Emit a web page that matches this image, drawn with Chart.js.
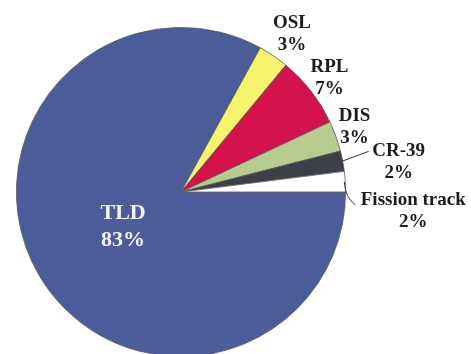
<!DOCTYPE html>
<html>
<head>
<meta charset="utf-8">
<script src="https://cdn.jsdelivr.net/npm/chart.js@4"></script>
<style>
  html, body { margin: 0; padding: 0; background: #fff; overflow: hidden; }
  #wrap { position: absolute; left: 0; top: 0; width: 471px; height: 370px; }
</style>
</head>
<body>
<div id="wrap"><canvas id="pie"></canvas></div>
<script>
/* dosimeter types and their share (%) */
var labels = ['TLD', 'OSL', 'RPL', 'DIS', 'CR-39', 'Fission track'];
var shares = [83, 3, 7, 3, 2, 2];
var colors = ['#4B5C9B', '#F6F46C', '#D3124E', '#B8CB8F', '#3E4049', '#FFFFFF'];

var serif = '"Liberation Serif", "Times New Roman", serif';

/* small nudges for the outside labels */
var nudges = { 'OSL': [6, -4], 'RPL': [1, 0], 'DIS': [-2, -2] };

/* leader lines for the two thin slices: end point relative to the slice edge, then text anchor */
var callouts = {
    'CR-39': { ex: 27, ey: -10, tx: 57, ty: 1, curve: false },
    'Fission track': { ex: 11, ey: 23, tx: 69, ty: 29, curve: true }
};

function drawLines(ctx, text, x, y, lh) {
    var top = y - (text.length - 1) * lh / 2;
    text.forEach(function (t, i) { ctx.fillText(t, x, top + i * lh); });
}

/* 標籤 */
var pieLabels = {
    id: 'pieLabels',
    afterDatasetsDraw: function (chart) {
        var ctx = chart.ctx;
        var meta = chart.getDatasetMeta(0);
        ctx.save();
        ctx.textAlign = 'center';
        ctx.textBaseline = 'middle';
        meta.data.forEach(function (arc, i) {
            var p = arc.getProps(['x', 'y', 'startAngle', 'endAngle', 'outerRadius'], true);
            var mid = (p.startAngle + p.endAngle) / 2;
            var cos = Math.cos(mid), sin = Math.sin(mid);
            var text = [labels[i], shares[i] + '%'];
            if (i === 0) {
                // big slice: label inside
                var r0 = p.outerRadius * 0.43;
                ctx.fillStyle = '#F4F4F8';
                ctx.font = 'bold 22px ' + serif;
                drawLines(ctx, text, p.x + cos * r0 + 3, p.y + sin * r0 - 1, 27);
                return;
            }
            ctx.fillStyle = '#1C1C1C';
            ctx.font = 'bold 19px ' + serif;
            var c = callouts[labels[i]];
            if (!c) {
                var r1 = p.outerRadius + 22;
                var n = nudges[labels[i]] || [0, 0];
                drawLines(ctx, text, p.x + cos * r1 + n[0], p.y + sin * r1 + n[1], 22);
                return;
            }
            var sx = p.x + cos * (p.outerRadius - 1), sy = p.y + sin * (p.outerRadius - 1);
            ctx.strokeStyle = '#333';
            ctx.lineWidth = 1;
            ctx.beginPath();
            ctx.moveTo(sx, sy);
            if (c.curve) ctx.quadraticCurveTo(sx + 1, sy + c.ey * 0.7, sx + c.ex, sy + c.ey);
            else ctx.lineTo(sx + c.ex, sy + c.ey);
            ctx.stroke();
            drawLines(ctx, text, sx + c.tx, sy + c.ty, 22);
        });
        ctx.restore();
    }
};

new Chart(document.getElementById('pie'), {
    type: 'pie',
    data: {
        labels: labels,
        datasets: [{
            data: shares,
            backgroundColor: colors,
            borderColor: '#5a5a5a',
            borderWidth: 0.8,
            offset: 0,
            hoverOffset: 0
        }]
    },
    options: {
        responsive: true,
        maintainAspectRatio: false,
        animation: false,
        rotation: 90,
        layout: { padding: { left: 16, top: 27, right: 125, bottom: 13 } },
        plugins: {
            legend: { display: false },
            tooltip: { enabled: false }
        }
    },
    plugins: [pieLabels]
});
</script>
</body>
</html>
